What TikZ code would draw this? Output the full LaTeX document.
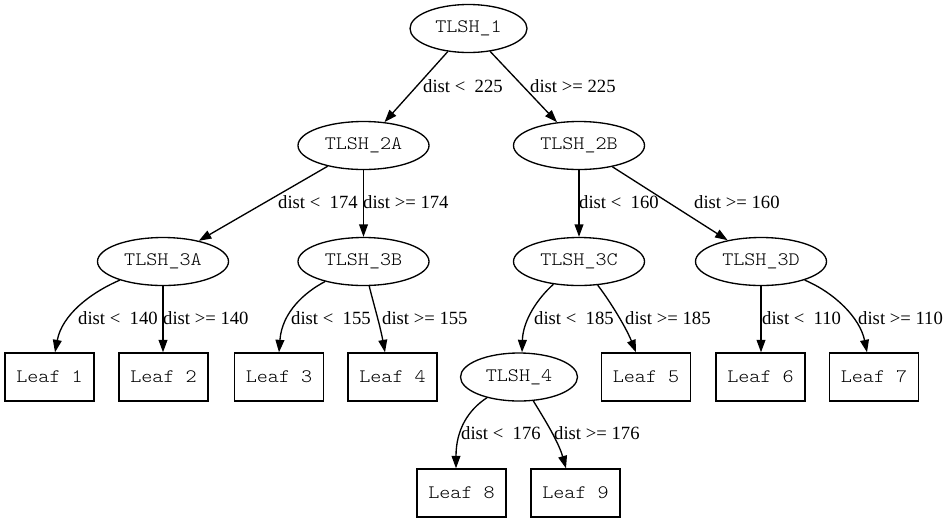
\documentclass[tikz,border=0pt]{standalone}
\usepackage{fontspec}
\setmainfont{Liberation Serif}
\newfontfamily\courfont[FakeStretch=1.11]{Latin Modern Mono Light}
\usetikzlibrary{shapes.geometric,arrows.meta}
\tikzset{
  treenode/.style={draw, line width=1.33pt, inner sep=0pt, minimum height=48pt,
    font=\courfont\fontsize{19}{20}\selectfont},
  ell/.style={treenode, ellipse, minimum width=131pt},
  ellsmall/.style={ell, minimum width=117pt},
  leaf/.style={treenode, rectangle, minimum width=89pt},
  edge/.style={draw, line width=1.33pt, -{Triangle[length=12.5pt,width=8.8pt]}},
  elabel/.style={anchor=west, inner sep=0pt, font=\fontsize{18.67}{20}\selectfont}
}
\begin{document}
\begin{tikzpicture}[x=1pt,y=-1pt]
\fill[white] (0,0) rectangle (949,523);
\useasboundingbox (0,0) rectangle (949,523);
% nodes
\node[ellsmall] (t1)  at (468.5,28.5) {TLSH\_1};
\node[ell]      (t2a) at (363.5,145.5) {TLSH\_2A};
\node[ell]      (t2b) at (579,145.5) {TLSH\_2B};
\node[ell]      (t3a) at (163,261.5) {TLSH\_3A};
\node[ell]      (t3b) at (363.5,261.5) {TLSH\_3B};
\node[ell]      (t3c) at (579,261.5) {TLSH\_3C};
\node[ell]      (t3d) at (761,261.5) {TLSH\_3D};
\node[ellsmall] (t4)  at (519,377) {TLSH\_4};
\node[leaf] (l1) at (49.5,377) {Leaf 1};
\node[leaf] (l2) at (163.5,377) {Leaf 2};
\node[leaf] (l3) at (279,377) {Leaf 3};
\node[leaf] (l4) at (392.5,377) {Leaf 4};
\node[leaf] (l5) at (646,377) {Leaf 5};
\node[leaf] (l6) at (760.5,377) {Leaf 6};
\node[leaf] (l7) at (874,377) {Leaf 7};
\node[leaf] (l8) at (461.5,493) {Leaf 8};
\node[leaf] (l9) at (575.5,493) {Leaf 9};
% edges
\draw[edge] (t1) -- (t2a);
\draw[edge] (t1) -- (t2b);
\draw[edge] (t2a) -- (t3a);
\draw[edge] (t2a) -- (t3b);
\draw[edge] (t2b) -- (t3c);
\draw[edge] (t2b) -- (t3d);
\draw[edge] (t3a) .. controls (90,293) and (62,315) .. ([xshift=5.5pt]l1.north);
\draw[edge] (t3a) -- (t3a |- l2.north);
\draw[edge] (t3b) .. controls (305,292) and (282,312) .. ([xshift=0pt]l3.north);
\draw[edge] (t3b) .. controls (372,298) and (380,325) .. ([xshift=-7.5pt]l4.north);
\draw[edge] (t3c) .. controls (538,298) and (523,320) .. ([xshift=3pt]t4.north);
\draw[edge] (t3c) .. controls (607,297) and (625,325) .. ([xshift=-10pt]l5.north);
\draw[edge] (t3d) -- (t3d |- l6.north);
\draw[edge] (t3d) .. controls (835,293) and (860,318) .. ([xshift=-7pt]l7.north);
\draw[edge] (t4) .. controls (468,410) and (456,430) .. ([xshift=-5.5pt]l8.north);
\draw[edge] (t4) .. controls (540,412) and (558,440) .. ([xshift=-9.5pt]l9.north);
% edge labels
\node[elabel] (e1)  at (423,86)  {dist <~~225};
\node[elabel] (e2)  at (530,86)  {dist >= 225};
\node[elabel] (e3)  at (278,202) {dist <~~174};
\node[elabel] (e4)  at (363,202) {dist >= 174};
\node[elabel] (e5)  at (579,202) {dist <~~160};
\node[elabel] (e6)  at (694,202) {dist >= 160};
\node[elabel] (e7)  at (78,318)  {dist <~~140};
\node[elabel] (e8)  at (163,318) {dist >= 140};
\node[elabel] (e9)  at (291,318) {dist <~~155};
\node[elabel] (e10) at (382,318) {dist >= 155};
\node[elabel] (e11) at (534,318) {dist <~~185};
\node[elabel] (e12) at (625,318) {dist >= 185};
\node[elabel] (e13) at (762,318) {dist <~~110};
\node[elabel] (e14) at (858,318) {dist >= 110};
\node[elabel] (e15) at (461,433) {dist <~~176};
\node[elabel] (e16) at (554,433) {dist >= 176};
\end{tikzpicture}
\end{document}
